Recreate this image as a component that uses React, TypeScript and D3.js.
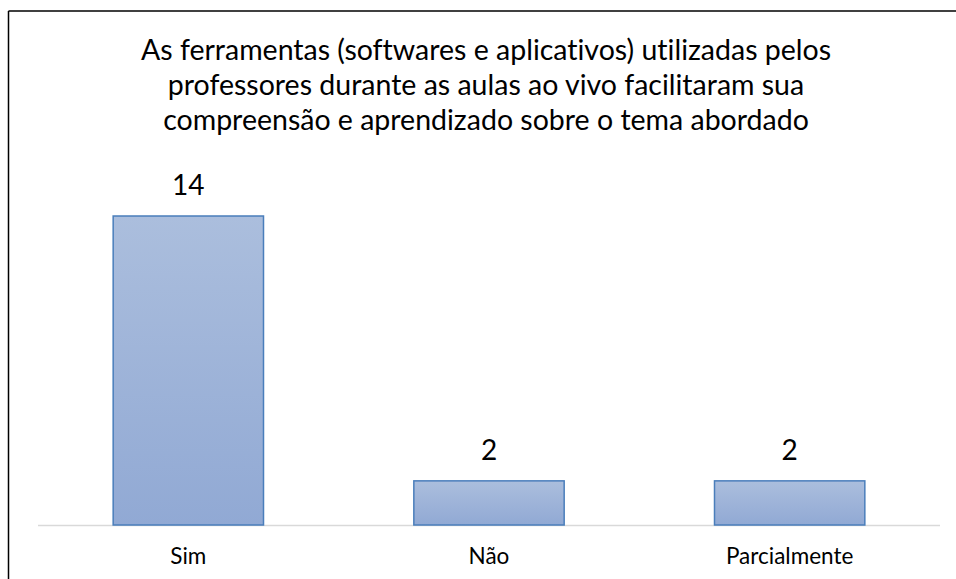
import React from "react";
import * as d3 from "d3";

const categories = ["Sim", "Não", "Parcialmente"];
const values = [14, 2, 2];
const titleLines = [
  "As ferramentas (softwares e aplicativos) utilizadas pelos",
  "professores durante as aulas ao vivo facilitaram sua",
  "compreensão e aprendizado sobre o tema abordado",
];

const W = 956;
const H = 579;
const plot = { left: 38, right: 940, bottom: 525, top: 216 };

export default function App() {
  const x = d3.scaleBand<string>().domain(categories).range([plot.left, plot.right]).paddingInner(0.5).paddingOuter(0.25);
  const y = d3.scaleLinear().domain([0, 14]).range([plot.bottom, plot.top]);
  const font = "Lato, 'Open Sans', sans-serif";
  return (
    <svg
      width={W}
      height={H}
      style={{ position: "absolute", left: 0, top: 0, background: "#fff", fontVariantLigatures: "none" }}
      fontFamily={font}
    >
      <defs>
        <linearGradient id="barGrad" x1="0" y1="0" x2="0" y2="1">
          <stop offset="0%" stopColor="#abbedd" />
          <stop offset="100%" stopColor="#91a9d4" />
        </linearGradient>
      </defs>
      <rect x={0} y={0} width={W} height={H} fill="#fff" />
      <line x1={8.5} y1={11} x2={8.5} y2={H} stroke="#000" strokeWidth={1.5} />
      <line x1={8.5} y1={11} x2={W} y2={11} stroke="#000" strokeWidth={1.5} />
      {titleLines.map((t, i) => (
        <text key={i} x={486} y={59.5 + i * 35.3} textAnchor="middle" fontSize={28.5} fill="#000">
          {t}
        </text>
      ))}
      <line x1={plot.left} x2={plot.right} y1={plot.bottom + 0.5} y2={plot.bottom + 0.5} stroke="#d9d9d9" strokeWidth={1.5} />
      {categories.map((c, i) => {
        const bx = x(c)!;
        const bw = x.bandwidth();
        const by = y(values[i]);
        return (
          <g key={c}>
            <rect x={bx} y={by} width={bw} height={plot.bottom - by} fill="url(#barGrad)" stroke="#4a7ebb" strokeWidth={1.5} />
            <text x={bx + bw / 2} y={by - 21} textAnchor="middle" fontSize={28} fill="#000">
              {values[i]}
            </text>
            <text x={bx + bw / 2} y={564} textAnchor="middle" fontSize={22.5} fill="#000">
              {c}
            </text>
          </g>
        );
      })}
    </svg>
  );
}
